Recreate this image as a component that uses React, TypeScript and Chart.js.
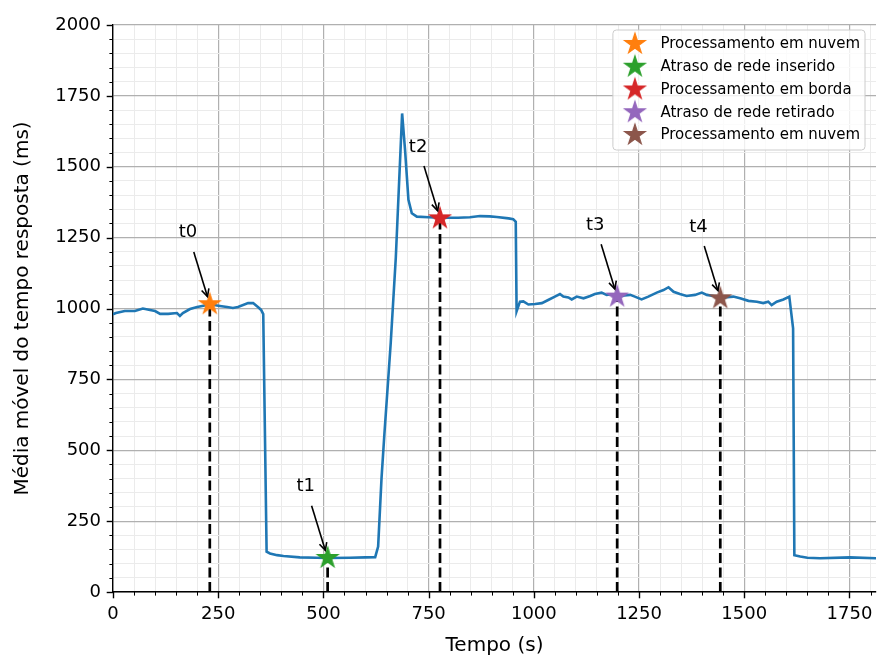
import React, { useEffect, useRef } from 'react';
import { Chart, registerables } from 'chart.js';

Chart.register(...registerables);

// ---- data ----
const timeS = [
  0, 7, 28, 52, 71, 88, 100, 112, 131, 152, 159, 166, 183, 200, 215, 230, 254, 271, 285, 297,
  321, 333, 345, 352, 357, 365, 373, 390, 405, 444, 484, 510, 563, 600, 623, 630, 638, 645, 660, 672,
  687, 694, 702, 710, 722, 750, 777, 820, 848, 872, 895, 912, 940, 951, 957, 959, 967, 975, 987, 1003,
  1019, 1034, 1050, 1062, 1070, 1082, 1090, 1102, 1118, 1134, 1145, 1161, 1173, 1186, 1201, 1215, 1229, 1240, 1256, 1272,
  1292, 1308, 1320, 1332, 1347, 1363, 1383, 1399, 1411, 1427, 1446, 1474, 1490, 1510, 1530, 1545, 1557, 1565, 1577, 1593,
  1607, 1616, 1619, 1633, 1650, 1680, 1751, 1813,
];
const avgMs = [
  980, 984, 991, 991, 1000, 995, 991, 981, 981, 984, 974, 984, 998, 1005, 1010, 1015, 1009, 1005, 1002, 1005,
  1019, 1019, 1004, 995, 980, 142, 136, 130, 127, 122, 121, 120, 121, 122, 123, 160, 400, 560, 880, 1180,
  1688, 1559, 1383, 1336, 1324, 1322, 1320, 1320, 1322, 1326, 1325, 1323, 1318, 1315, 1306, 990, 1024, 1025, 1014, 1016,
  1019, 1030, 1042, 1051, 1042, 1039, 1032, 1042, 1036, 1044, 1051, 1056, 1048, 1050, 1042, 1046, 1048, 1042, 1032, 1042,
  1056, 1065, 1075, 1059, 1051, 1044, 1048, 1056, 1048, 1044, 1038, 1042, 1036, 1027, 1024, 1019, 1024, 1012, 1024, 1032,
  1042, 930, 130, 125, 121, 119, 122, 119,
];

const eventTimes = [230, 510, 777, 1198, 1443];
const eventValues = [1015, 120, 1318, 1042, 1036];
const eventTags = ['t0', 't1', 't2', 't3', 't4'];
const eventNames = [
  'Processamento em nuvem',
  'Atraso de rede inserido',
  'Processamento em borda',
  'Atraso de rede retirado',
  'Processamento em nuvem',
];
const eventColors = ['#ff7f0e', '#2ca02c', '#d62728', '#9467bd', '#8c564b'];

const xMax = 1813;
const yMax = 2000;
const majorStep = 250;
const minorStep = 50;
const xTitle = 'Tempo (s)';
const yTitle = 'Média móvel do tempo resposta (ms)';

// annotation text offset (data units)
const annDx = -52;
const annDy = 252;

const FONT = "'DejaVu Sans', sans-serif";

function makeStar(color: string): HTMLCanvasElement {
  const c = document.createElement('canvas');
  c.width = 28;
  c.height = 28;
  const g = c.getContext('2d')!;
  const R = 10.8;
  const r = R * 0.381966;
  const cx = 14;
  const cy = 14;
  g.beginPath();
  for (let i = 0; i < 10; i++) {
    const ang = -Math.PI / 2 + (i * Math.PI) / 5;
    const rad = i % 2 === 0 ? R : r;
    const px = cx + rad * Math.cos(ang);
    const py = cy + rad * Math.sin(ang);
    if (i === 0) g.moveTo(px, py);
    else g.lineTo(px, py);
  }
  g.closePath();
  g.fillStyle = color;
  g.fill();
  g.strokeStyle = color;
  g.lineWidth = 1.2;
  g.stroke();
  return c;
}

export default function App() {
  const ref = useRef<HTMLCanvasElement>(null);

  useEffect(() => {
    document.body.style.margin = '0';
    const canvas = ref.current!;
    const stars = eventColors.map(makeStar);

    const xTickVals: number[] = [];
    for (let v = 0; v <= xMax; v += minorStep) xTickVals.push(v);
    const yTickVals: number[] = [];
    for (let v = 0; v <= yMax; v += minorStep) yTickVals.push(v);

    const isMajor = (v: number) => Math.abs(v % majorStep) < 1e-9;

    const lineData = timeS.map((t, i) => ({ x: t, y: avgMs[i] }));

    const starSets = eventTimes.map((t, i) => ({
      label: eventNames[i],
      data: [{ x: t, y: eventValues[i] }],
      showLine: false,
      pointStyle: stars[i] as any,
      pointRadius: 10,
      backgroundColor: eventColors[i],
      borderColor: eventColors[i],
      order: 0,
    }));

    const vlineSets = eventTimes.map((t, i) => ({
      label: 'vline' + i,
      data: [
        { x: t, y: 0 },
        { x: t, y: eventValues[i] },
      ],
      borderColor: '#000000',
      borderWidth: 2.7,
      borderDash: [10, 4.5],
      pointRadius: 0,
      fill: false,
      tension: 0,
      order: 2,
    }));

    const mainSet = {
      label: 'Média móvel',
      data: lineData,
      borderColor: '#1f77b4',
      borderWidth: 2.6,
      pointRadius: 0,
      fill: false,
      tension: 0,
      order: 1,
    };

    const tickPlugin = {
      id: 'mplTicks',
      afterDraw(chart: any) {
        const { ctx, chartArea: a } = chart;
        const xs = chart.scales.x;
        const ys = chart.scales.y;
        ctx.save();
        ctx.strokeStyle = '#000';
        for (const v of xTickVals) {
          const p = Math.round(xs.getPixelForValue(v)) + 0.5;
          const maj = isMajor(v);
          ctx.lineWidth = maj ? 1.4 : 1.0;
          ctx.beginPath();
          ctx.moveTo(p, a.bottom);
          ctx.lineTo(p, a.bottom + (maj ? 6.3 : 3.6));
          ctx.stroke();
        }
        for (const v of yTickVals) {
          const p = Math.round(ys.getPixelForValue(v)) + 0.5;
          const maj = isMajor(v);
          ctx.lineWidth = maj ? 1.4 : 1.0;
          ctx.beginPath();
          ctx.moveTo(a.left, p);
          ctx.lineTo(a.left - (maj ? 6.3 : 3.6), p);
          ctx.stroke();
        }
        ctx.restore();
      },
    };

    const annotationPlugin = {
      id: 'annotations',
      afterDatasetsDraw(chart: any) {
        const { ctx } = chart;
        const xs = chart.scales.x;
        const ys = chart.scales.y;
        ctx.save();
        for (let i = 0; i < eventTimes.length; i++) {
          const mx = xs.getPixelForValue(eventTimes[i]);
          const my = ys.getPixelForValue(eventValues[i]);
          const tx = xs.getPixelForValue(eventTimes[i] + annDx);
          const ty = ys.getPixelForValue(eventValues[i] + annDy);
          ctx.fillStyle = '#000';
          ctx.font = `18px ${FONT}`;
          ctx.textAlign = 'center';
          ctx.textBaseline = 'middle';
          ctx.fillText(eventTags[i], tx, ty);
          const dx = mx - tx;
          const dy = my - ty;
          const len = Math.hypot(dx, dy);
          const ux = dx / len;
          const uy = dy / len;
          const sx = tx + ux * 20;
          const sy = ty + uy * 20;
          const ex = mx - ux * 8;
          const ey = my - uy * 8;
          ctx.strokeStyle = '#000';
          ctx.lineWidth = 1.6;
          ctx.beginPath();
          ctx.moveTo(sx, sy);
          ctx.lineTo(ex, ey);
          ctx.stroke();
          const hl = 7.5;
          const hw = 3.8;
          const bx = ex - ux * hl;
          const by = ey - uy * hl;
          ctx.beginPath();
          ctx.moveTo(bx - uy * hw, by + ux * hw);
          ctx.lineTo(ex, ey);
          ctx.lineTo(bx + uy * hw, by - ux * hw);
          ctx.stroke();
        }
        ctx.restore();
      },
    };

    const legendPlugin = {
      id: 'mplLegend',
      afterDraw(chart: any) {
        const { ctx, chartArea: a } = chart;
        ctx.save();
        const fontPx = 15;
        ctx.font = `${fontPx}px ${FONT}`;
        const starSetsDrawn = chart.data.datasets.filter((d: any) => d.showLine === false);
        let maxW = 0;
        for (const d of starSetsDrawn) maxW = Math.max(maxW, ctx.measureText(d.label).width);
        const rowH = 22.75;
        const textOff = 47.5;
        const boxW = textOff + maxW + 5;
        const boxH = 14 + (starSetsDrawn.length - 1) * rowH + 15;
        const bx = a.right - 11 - boxW;
        const by = a.top + 5;
        const rr = 3.5;
        ctx.beginPath();
        ctx.moveTo(bx + rr, by);
        ctx.arcTo(bx + boxW, by, bx + boxW, by + boxH, rr);
        ctx.arcTo(bx + boxW, by + boxH, bx, by + boxH, rr);
        ctx.arcTo(bx, by + boxH, bx, by, rr);
        ctx.arcTo(bx, by, bx + boxW, by, rr);
        ctx.closePath();
        ctx.fillStyle = 'rgba(255,255,255,0.8)';
        ctx.fill();
        ctx.strokeStyle = '#cccccc';
        ctx.lineWidth = 1;
        ctx.stroke();
        ctx.textAlign = 'left';
        ctx.textBaseline = 'middle';
        ctx.fillStyle = '#000';
        starSetsDrawn.forEach((d: any, i: number) => {
          const cy = by + 14 + i * rowH;
          const img = d.pointStyle as HTMLCanvasElement;
          ctx.drawImage(img, bx + 22 - img.width / 2, cy - img.height / 2);
          ctx.fillText(d.label, bx + textOff, cy + 0.5);
        });
        ctx.restore();
      },
    };

    const chart = new Chart(canvas, {
      type: 'line',
      data: {
        datasets: [...starSets, mainSet, ...vlineSets] as any,
      },
      options: {
        animation: false,
        responsive: false,
        devicePixelRatio: 1,
        events: [],
        layout: { autoPadding: false, padding: { top: 25, right: 2, left: 0, bottom: 0 } },
        plugins: {
          legend: { display: false },
          tooltip: { enabled: false },
        },
        scales: {
          x: {
            type: 'linear',
            min: 0,
            max: xMax,
            afterFit: (s: any) => {
              s.height = 67;
              s.paddingLeft = 0;
              s.paddingRight = 0;
            },
            afterBuildTicks: (s: any) => {
              s.ticks = xTickVals.map((v) => ({ value: v }));
            },
            ticks: {
              autoSkip: false,
              maxRotation: 0,
              minRotation: 0,
              padding: 12,
              color: '#000',
              font: { family: FONT, size: 18 },
              callback: (v: any) => (isMajor(Number(v)) ? String(v) : ''),
            },
            grid: {
              drawTicks: false,
              color: (c: any) => (c.tick && isMajor(c.tick.value) ? '#b0b0b0' : '#ebebeb'),
              lineWidth: (c: any) => (c.tick && isMajor(c.tick.value) ? 1.2 : 1),
            },
            border: { display: true, color: '#000', width: 1.4 },
            title: {
              display: true,
              text: xTitle,
              color: '#000',
              font: { family: FONT, size: 20 },
              padding: { top: 1, bottom: 1 },
            },
          },
          y: {
            type: 'linear',
            min: 0,
            max: yMax,
            afterFit: (s: any) => {
              s.width = 113;
              s.paddingTop = 0;
              s.paddingBottom = 0;
            },
            afterBuildTicks: (s: any) => {
              s.ticks = yTickVals.map((v) => ({ value: v }));
            },
            ticks: {
              autoSkip: false,
              padding: 12,
              color: '#000',
              font: { family: FONT, size: 18 },
              callback: (v: any) => (isMajor(Number(v)) ? String(v) : ''),
            },
            grid: {
              drawTicks: false,
              color: (c: any) => (c.tick && isMajor(c.tick.value) ? '#b0b0b0' : '#ebebeb'),
              lineWidth: (c: any) => (c.tick && isMajor(c.tick.value) ? 1.2 : 1),
            },
            border: { display: true, color: '#000', width: 1.4 },
            title: {
              display: true,
              text: yTitle,
              color: '#000',
              font: { family: FONT, size: 20 },
              padding: { top: 11, bottom: 11 },
            },
          },
        },
      },
      plugins: [tickPlugin, annotationPlugin, legendPlugin],
    });

    return () => {
      chart.destroy();
    };
  }, []);

  return (
    <div style={{ width: 878, height: 659 }}>
      <canvas ref={ref} width={878} height={659} />
    </div>
  );
}
